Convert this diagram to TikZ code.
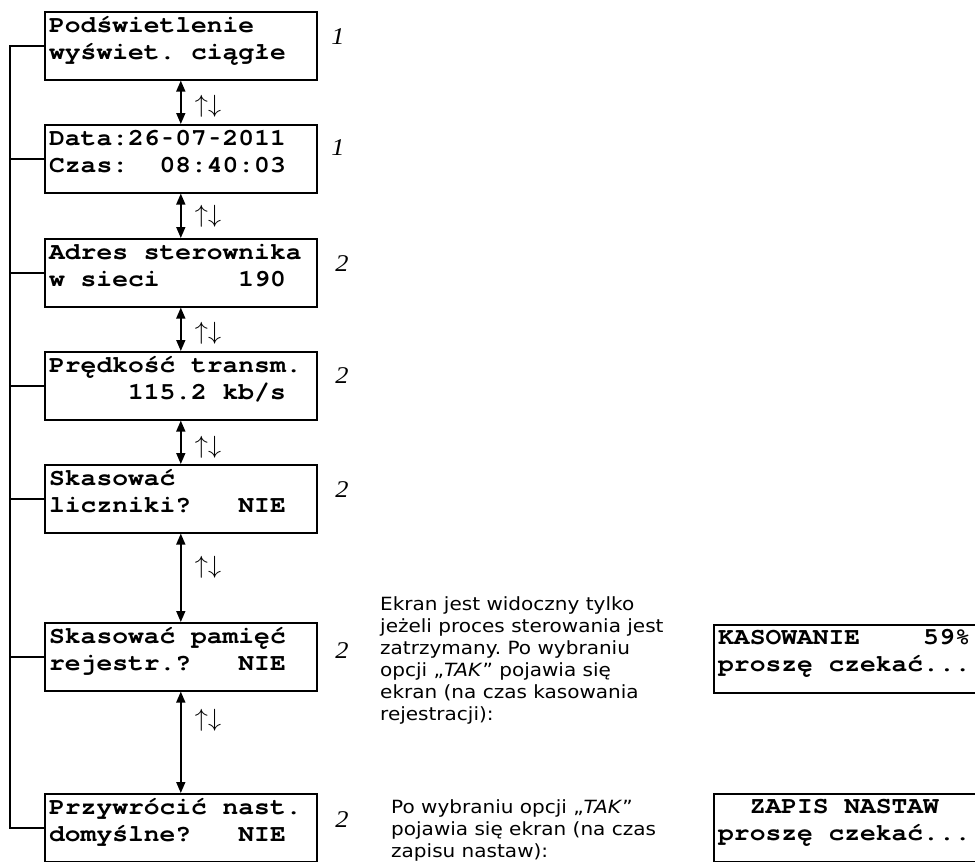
\documentclass[tikz,border=0pt]{standalone}
\usepackage{fontspec}
\usetikzlibrary{arrows.meta,calc}
\newfontfamily\lcdfont[FakeStretch=1.1]{TeX Gyre Cursor}
\newfontfamily\descfont[FakeStretch=1.1]{DejaVu Sans}
\newfontfamily\numfont[FakeStretch=1.1]{Liberation Serif}
\newcommand\twolines[2]{\vtop{\baselineskip=27pt\lineskiplimit=-100pt\lineskip=0pt\hbox{#1}\hbox{#2}}}
\newcommand\manylines[1]{\vtop{\baselineskip=22pt\lineskiplimit=-100pt\lineskip=0pt #1}}
\newcommand\updnarrows{\scalebox{1.05}[1]{$\uparrow\downarrow$}}
\newcommand\lcdhyph{\makebox[\fontcharwd\font`0][c]{\scalebox{0.6}[1]{-}}}
\frenchspacing
\begin{document}
\begin{tikzpicture}[x=1pt,y=-1pt,
  lcd/.style={draw, line width=1.6pt, minimum width=272pt, minimum height=68pt, inner sep=0pt, anchor=north west},
  lcdtxt/.style={anchor=base west, inner sep=0pt, font=\lcdfont\fontsize{23.9pt}{27pt}\selectfont\bfseries},
  desc/.style={anchor=base west, inner sep=0pt, font=\descfont\fontsize{18.2pt}{22pt}\selectfont},
  num/.style={inner sep=0pt, font=\numfont\fontsize{24pt}{26pt}\selectfont\itshape},
  updn/.style={inner sep=0pt, font=\fontsize{23pt}{26pt}\selectfont},
  conn/.style={line width=1.6pt},
  dbl/.style={conn, {Triangle[length=11pt,width=9pt]}-{Triangle[length=11pt,width=9pt]}}]
\useasboundingbox (0,0) rectangle (975,862);
\clip (0,0) rectangle (975,862);
\fill[white] (0,0) rectangle (975,862);
% left column boxes
\node[lcd] (b1) at (44,11) {};
\node[lcd] (b2) at (44,124) {};
\node[lcd] (b3) at (44,238) {};
\node[lcd] (b4) at (44,351) {};
\node[lcd] (b5) at (44,464) {};
\node[lcd] (b6) at (44,622) {};
\node[lcd] (b7) at (44,793) {};
% right boxes
\node[lcd] (r1) at (713,624) {};
\node[lcd] (r2) at (713,793) {};
% box texts
\node[lcdtxt] (t1) at ($(b1.north west)+(5,21)$) {\twolines{Podświetlenie}{wyświet. ciągłe}};
\node[lcdtxt] (t2) at ($(b2.north west)+(5,21)$) {\twolines{Data:26\lcdhyph 07\lcdhyph 2011}{Czas:~~08:40:03}};
\node[lcdtxt] (t3) at ($(b3.north west)+(5,21)$) {\twolines{Adres sterownika}{w sieci~~~~~190}};
\node[lcdtxt] (t4) at ($(b4.north west)+(5,21)$) {\twolines{Prędkość transm.}{~~~~~115.2 kb/s}};
\node[lcdtxt] (t5) at ($(b5.north west)+(5,21)$) {\twolines{Skasować}{liczniki?~~~NIE}};
\node[lcdtxt] (t6) at ($(b6.north west)+(5,21)$) {\twolines{Skasować pamięć}{rejestr.?~~~NIE}};
\node[lcdtxt] (t7) at ($(b7.north west)+(5,21)$) {\twolines{Przywrócić nast.}{domyślne?~~~NIE}};
\node[lcdtxt] (t8) at ($(r1.north west)+(5,20)$) {\twolines{KASOWANIE~~~~59\%}{proszę czekać...}};
\node[lcdtxt] (t9) at ($(r2.north west)+(5,20)$) {\twolines{~~ZAPIS NASTAW}{proszę czekać...}};
% left bracket
\coordinate (lb) at (10,0);
\draw[conn] (b1.west) -| (b7.west -| lb) -- (b7.west);
\foreach \i in {2,...,6} \draw[conn] (b\i.west) -- (b\i.west -| lb);
% double arrows
\draw[dbl] (b1.south) -- (b2.north);
\draw[dbl] (b2.south) -- (b3.north);
\draw[dbl] (b3.south) -- (b4.north);
\draw[dbl] (b4.south) -- (b5.north);
\draw[dbl] (b5.south) -- (b6.north);
\draw[dbl] (b6.south) -- (b7.north);
% arrow labels
\node[updn] (a1) at (208,106) {\updnarrows};
\node[updn] (a2) at (208,216) {\updnarrows};
\node[updn] (a3) at (208,333) {\updnarrows};
\node[updn] (a4) at (208,447) {\updnarrows};
\node[updn] (a5) at (208,567) {\updnarrows};
\node[updn] (a6) at (208,720) {\updnarrows};
% level numbers
\node[num] (n1) at (338,37) {1};
\node[num] (n2) at (338,148) {1};
\node[num] (n3) at (342,264) {2};
\node[num] (n4) at (342,376) {2};
\node[num] (n5) at (342,490) {2};
\node[num] (n6) at (342,651) {2};
\node[num] (n7) at (342,820) {2};
% descriptions
\node[desc] (d1) at (380,610) {\manylines{\hbox{Ekran jest widoczny tylko}\hbox{jeżeli proces sterowania jest}\hbox{zatrzymany. Po wybraniu}\hbox{opcji „\textit{TAK}” pojawia się}\hbox{ekran (na czas kasowania}\hbox{rejestracji):}}};
\node[desc] (d2) at (391,813) {\manylines{\hbox{Po wybraniu opcji „\textit{TAK}”}\hbox{pojawia się ekran (na czas}\hbox{zapisu nastaw):}}};
\end{tikzpicture}
\end{document}
